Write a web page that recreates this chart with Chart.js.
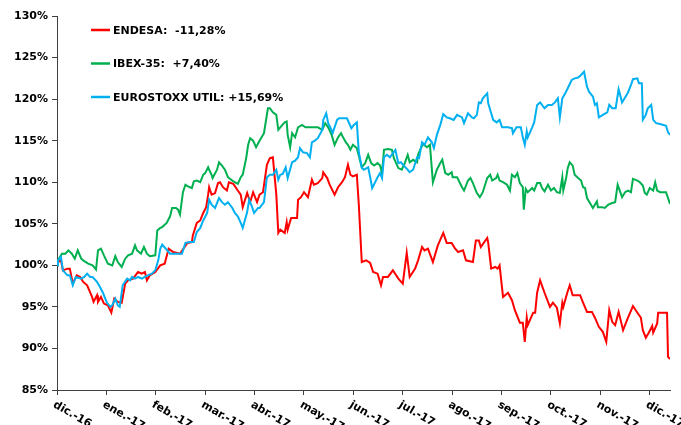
<!DOCTYPE html>
<html>
<head>
<meta charset="utf-8">
<script src="https://cdn.jsdelivr.net/npm/chart.js@4.4.1/dist/chart.umd.min.js"></script>
<style>body{margin:0;background:#fff}</style>
</head>
<body>
<canvas id="myChart" width="681" height="425"></canvas>
<script>
// meses del eje x (0 = dic.-16 ... 12 = dic.-17), los datos llegan a mediados de dic.-17
var monthLabels = ['dic.-16', 'ene.-17', 'feb.-17', 'mar.-17', 'abr.-17', 'may.-17', 'jun.-17',
  'jul.-17', 'ago.-17', 'sep.-17', 'oct.-17', 'nov.-17', 'dic.-17'];
var lastMonth = 12.41;

var seriesLabels = ['ENDESA:  -11,28%', 'IBEX-35:  +7,40%', 'EUROSTOXX UTIL: +15,69%'];

// ENDESA, base 100
var endesaX = [0,0.02,0.08,0.12,0.21,0.26,0.32,0.40,0.47,0.53,
  0.61,0.71,0.74,0.81,0.83,0.89,0.95,1.03,1.10,1.16,
  1.23,1.31,1.38,1.44,1.54,1.64,1.72,1.78,1.82,1.88,
  1.99,2.09,2.18,2.26,2.35,2.49,2.64,2.73,2.75,2.83,
  2.90,2.96,3.02,3.06,3.08,3.13,3.20,3.26,3.30,3.36,
  3.44,3.48,3.57,3.66,3.72,3.76,3.85,3.91,3.97,4.05,
  4.10,4.17,4.25,4.31,4.37,4.44,4.48,4.52,4.61,4.65,
  4.67,4.74,4.86,4.88,4.94,5.00,5.08,5.16,5.20,5.28,
  5.37,5.39,5.47,5.52,5.62,5.69,5.77,5.83,5.89,5.94,
  5.99,6.07,6.11,6.17,6.26,6.34,6.40,6.49,6.56,6.60,
  6.70,6.80,6.91,7.00,7.08,7.14,7.25,7.31,7.39,7.44,
  7.51,7.61,7.71,7.82,7.89,7.99,8.05,8.12,8.22,8.28,
  8.42,8.48,8.54,8.58,8.71,8.73,8.79,8.87,8.92,8.96,
  9.03,9.13,9.21,9.27,9.37,9.43,9.47,9.51,9.53,9.64,
  9.68,9.72,9.78,9.87,9.98,10.04,10.12,10.18,10.23,10.25,
  10.33,10.38,10.44,10.59,10.65,10.73,10.83,10.89,10.97,11.05,
  11.12,11.18,11.24,11.30,11.37,11.46,11.56,11.66,11.75,11.82,
  11.86,11.92,11.98,12.05,12.07,12.15,12.17,12.35,12.37,12.41];
var endesaY = [100,100.4,100.6,99.4,99.6,99.6,97.8,98.8,98.6,98.0,
  97.6,96.2,95.6,96.4,95.6,96.2,95.4,95.2,94.3,96.0,
  95.6,95.5,97.8,98.2,98.4,99.2,99.0,99.2,98.2,98.8,
  99.2,100.0,100.2,102.0,101.6,101.4,102.7,102.8,103.6,105.1,
  105.4,106.3,107.0,108.5,109.4,108.5,108.7,109.9,110.0,109.4,
  109.0,110.0,109.8,109.0,108.5,107.0,108.7,107.6,108.8,107.6,
  108.5,108.8,112.1,112.9,113.0,108.5,103.9,104.3,103.9,105.2,
  104.3,105.7,105.7,107.9,108.2,108.8,108.2,110.3,109.7,109.9,
  110.5,111.2,110.5,109.7,108.5,109.4,110.0,110.6,112.1,110.9,
  110.7,110.9,107.3,100.4,100.6,100.3,99.2,99.0,97.6,98.6,
  98.6,99.4,98.4,97.8,101.5,98.6,99.6,100.6,102.2,101.8,
  102.0,100.4,102.4,103.9,102.7,102.7,102.1,101.6,101.8,100.6,
  100.4,103.0,103.0,102.2,103.3,102.7,99.6,99.8,99.6,100.0,
  96.2,96.7,95.8,94.6,93.1,93.1,90.8,93.7,92.8,94.3,
  94.3,96.7,98.2,96.7,95.0,95.5,94.9,93.0,95.5,95.0,
  96.7,97.6,96.4,96.4,95.5,94.4,94.4,93.7,92.6,92.0,
  90.8,94.6,93.2,92.8,94.4,92.2,93.7,95.1,94.3,93.7,
  92.2,91.3,91.9,92.7,91.9,93.0,94.3,94.3,89.0,88.72];

// IBEX-35, base 100
var ibexX = [0,0.02,0.10,0.17,0.23,0.30,0.36,0.42,0.49,0.53,
  0.63,0.72,0.79,0.83,0.89,0.95,1.03,1.12,1.18,1.23,
  1.31,1.38,1.44,1.52,1.58,1.62,1.70,1.76,1.82,1.88,
  1.99,2.03,2.09,2.13,2.22,2.29,2.33,2.41,2.45,2.49,
  2.55,2.60,2.65,2.73,2.77,2.83,2.90,2.96,3.00,3.06,
  3.08,3.13,3.15,3.24,3.28,3.34,3.40,3.46,3.55,3.60,
  3.66,3.72,3.76,3.83,3.87,3.91,3.97,4.03,4.10,4.19,
  4.27,4.31,4.37,4.44,4.48,4.52,4.61,4.65,4.67,4.72,
  4.76,4.82,4.88,4.96,5.03,5.12,5.22,5.28,5.37,5.43,
  5.49,5.56,5.62,5.69,5.75,5.79,5.85,5.89,5.94,5.99,
  6.07,6.17,6.24,6.30,6.36,6.42,6.49,6.54,6.58,6.62,
  6.70,6.78,6.82,6.91,6.98,7.04,7.10,7.14,7.21,7.29,
  7.31,7.35,7.41,7.49,7.55,7.61,7.69,7.76,7.80,7.86,
  7.92,7.99,8.01,8.10,8.20,8.24,8.32,8.37,8.42,8.50,
  8.56,8.62,8.71,8.77,8.81,8.89,8.92,8.96,9.03,9.11,
  9.17,9.21,9.27,9.32,9.37,9.43,9.45,9.49,9.53,9.62,
  9.66,9.72,9.78,9.82,9.87,9.94,10.00,10.06,10.12,10.18,
  10.23,10.25,10.31,10.34,10.38,10.44,10.48,10.55,10.61,10.65,
  10.69,10.73,10.78,10.85,10.93,10.95,11.03,11.09,11.16,11.24,
  11.30,11.35,11.44,11.50,11.56,11.62,11.66,11.75,11.80,11.86,
  11.90,11.94,12.00,12.07,12.11,12.15,12.21,12.33,12.41];
var ibexY = [100,100.6,101.4,101.4,101.8,101.4,100.8,101.8,100.8,100.6,
  100.2,100.0,99.5,101.8,102.0,101.2,100.2,100.0,101.1,100.4,
  99.8,100.8,101.2,101.4,102.4,101.8,101.4,102.2,101.4,101.1,
  101.2,104.2,104.5,104.6,105.1,105.9,106.9,106.9,106.7,106.1,
  108.8,109.7,109.5,109.3,110.1,110.2,110.0,110.9,111.1,111.8,
  111.5,110.9,110.5,111.5,112.4,112.0,111.5,110.6,110.2,110.0,
  109.8,110.6,110.9,112.9,114.5,115.3,115.0,114.2,115.0,115.9,
  118.9,118.9,118.4,118.1,116.3,116.6,117.2,117.3,115.7,114.2,
  115.9,115.4,116.6,116.9,116.6,116.6,116.6,116.6,116.3,117.1,
  116.6,115.7,114.5,115.4,115.9,115.4,114.8,114.5,113.9,114.5,
  114.1,111.8,112.3,113.3,112.3,112.0,112.3,112.0,111.1,113.9,
  114.0,113.9,112.9,111.7,111.5,112.3,113.3,112.4,112.7,112.4,
  113.3,113.9,114.6,114.2,114.5,110.0,111.5,112.3,112.7,111.1,
  110.9,111.2,110.6,110.6,109.4,109.0,110.2,110.5,109.9,108.7,
  108.2,108.8,110.5,110.9,110.2,110.5,110.9,110.2,110.0,109.7,
  109.0,110.9,110.6,111.1,109.9,109.4,106.7,109.2,108.8,109.3,
  109.0,109.9,109.9,109.3,108.9,109.7,109.0,109.3,108.8,108.7,
  110.6,109.0,110.6,111.7,112.4,112.0,110.9,110.5,110.2,109.4,
  109.3,108.1,107.6,106.9,107.7,107.0,107.0,106.9,107.3,107.5,
  107.6,109.7,108.2,108.8,109.0,108.8,110.4,110.2,110.0,109.6,
  108.7,108.5,109.3,109.0,110.0,109.0,108.8,108.8,107.4];

// EUROSTOXX UTILITIES, base 100
var stoxxX = [0,0.02,0.08,0.12,0.21,0.26,0.32,0.38,0.49,0.55,
  0.61,0.67,0.72,0.81,0.87,0.93,1.01,1.08,1.12,1.18,
  1.23,1.27,1.33,1.42,1.48,1.52,1.58,1.64,1.72,1.78,
  1.84,1.92,1.99,2.05,2.09,2.13,2.29,2.53,2.60,2.69,
  2.77,2.83,2.90,2.96,3.04,3.08,3.13,3.20,3.28,3.34,
  3.40,3.46,3.55,3.60,3.66,3.72,3.76,3.85,3.89,3.95,
  3.99,4.07,4.10,4.19,4.25,4.31,4.37,4.44,4.48,4.52,
  4.57,4.63,4.67,4.76,4.82,4.88,4.92,4.98,5.06,5.12,
  5.16,5.22,5.28,5.37,5.39,5.45,5.49,5.54,5.58,5.67,
  5.71,5.87,5.96,6.01,6.07,6.11,6.17,6.21,6.30,6.34,
  6.38,6.44,6.49,6.54,6.58,6.62,6.68,6.74,6.85,6.91,
  6.96,7.02,7.10,7.14,7.21,7.29,7.33,7.39,7.44,7.51,
  7.59,7.63,7.69,7.76,7.82,7.89,7.95,8.03,8.10,8.20,
  8.24,8.32,8.40,8.44,8.50,8.54,8.58,8.62,8.71,8.73,
  8.79,8.83,8.90,8.96,9.01,9.13,9.21,9.23,9.30,9.39,
  9.43,9.47,9.51,9.53,9.62,9.66,9.72,9.78,9.87,9.94,
  10.02,10.08,10.14,10.18,10.23,10.29,10.34,10.42,10.48,10.55,
  10.61,10.67,10.73,10.77,10.85,10.89,10.93,10.97,11.05,11.14,
  11.18,11.24,11.31,11.37,11.44,11.50,11.56,11.62,11.66,11.75,
  11.78,11.84,11.86,11.92,11.96,12.03,12.07,12.13,12.21,12.33,
  12.37,12.41];
var stoxxY = [100,100.6,101.0,99.4,98.8,98.8,97.6,98.6,98.4,98.6,
  99.0,98.6,98.6,98.0,97.4,96.7,95.5,95.0,95.2,96.0,
  95.2,95.0,97.6,98.4,98.2,98.6,98.4,98.6,98.4,98.6,
  98.8,99.0,99.4,100.6,102.0,102.5,101.4,101.4,102.7,102.8,
  102.8,104.0,104.5,105.4,106.3,107.9,107.3,106.9,108.1,107.6,
  107.3,107.6,106.9,106.3,105.9,105.1,104.5,106.4,107.9,107.0,
  106.3,106.9,106.9,107.6,110.6,110.9,110.9,111.5,110.3,110.9,
  111.0,111.8,110.5,112.4,112.6,113.0,114.1,113.6,113.5,113.0,
  114.8,115.0,115.3,116.3,117.5,118.3,117.1,116.5,115.9,117.5,
  117.7,117.7,116.5,116.9,117.2,113.6,111.8,111.5,111.8,110.6,
  109.3,110.0,110.6,111.1,110.5,113.0,113.3,113.0,113.9,112.3,
  112.4,112.0,111.5,111.2,111.5,113.0,112.9,114.8,114.5,115.4,
  114.8,114.1,115.7,116.9,118.2,117.8,117.7,117.5,118.1,117.8,
  117.1,118.3,117.8,117.7,118.1,119.6,119.5,120.1,120.7,119.5,
  118.3,117.5,117.2,117.5,116.6,116.6,116.5,115.9,116.6,116.6,
  115.4,114.5,116.1,115.4,116.6,117.2,119.3,119.6,118.9,119.3,
  119.3,119.6,120.1,117.8,120.1,120.7,121.3,122.3,122.5,122.6,
  122.9,123.3,121.5,120.9,120.3,119.3,119.5,117.8,118.1,118.4,
  119.3,118.9,118.9,121.2,119.6,120.2,120.8,121.7,122.4,122.5,
  121.9,121.9,117.5,118.1,118.9,119.3,117.5,117.1,117.0,116.8,
  116.0,115.69];

function toPoints(xs, ys) {
  return xs.map(function(x, i) { return { x: x, y: ys[i] }; });
}

var boldFont = { family: 'DejaVu Sans', size: 11, weight: 'bold' };

// etiquetas del eje x inclinadas hacia abajo y leyenda dentro del grafico
var extras = {
  id: 'extras',
  afterDraw: function(chart) {
    var ctx = chart.ctx, xs = chart.scales.x, area = chart.chartArea;
    ctx.save();
    ctx.font = 'bold 11px "DejaVu Sans"';
    ctx.fillStyle = '#000';
    ctx.textAlign = 'left';
    ctx.textBaseline = 'middle';
    monthLabels.forEach(function(lab, i) {
      ctx.save();
      ctx.translate(xs.getPixelForValue(i) - 3, area.bottom + 14);
      ctx.rotate(30 * Math.PI / 180);
      ctx.fillText(lab, 0, 0);
      ctx.restore();
    });
    chart.data.datasets.forEach(function(ds, i) {
      var y = area.top + 14 + i * 33.5;
      ctx.strokeStyle = ds.borderColor;
      ctx.lineWidth = 2.5;
      ctx.beginPath();
      ctx.moveTo(area.left + 34, y);
      ctx.lineTo(area.left + 53, y);
      ctx.stroke();
      ctx.fillText(ds.label, area.left + 56, y + 1);
    });
    ctx.restore();
  }
};

var ctx = document.getElementById('myChart').getContext('2d');

var myChart = new Chart(ctx, {
  type: 'line',
  data: {
    datasets: [
      {
        label: seriesLabels[0],
        data: toPoints(endesaX, endesaY),
        borderColor: '#FF0000',
        borderWidth: 2,
        pointRadius: 0,
        order: 2
      },
      {
        label: seriesLabels[1],
        data: toPoints(ibexX, ibexY),
        borderColor: '#00B050',
        borderWidth: 2,
        pointRadius: 0,
        order: 1
      },
      {
        label: seriesLabels[2],
        data: toPoints(stoxxX, stoxxY),
        borderColor: '#00B0F0',
        borderWidth: 2,
        pointRadius: 0,
        order: 0
      }
    ]
  },
  options: {
    responsive: false,
    animation: false,
    layout: { padding: { top: 16, right: 11, bottom: 0, left: 0 } },
    plugins: {
      legend: { display: false },
      tooltip: { enabled: false }
    },
    scales: {
      x: {
        type: 'linear',
        min: 0,
        max: lastMonth,
        afterFit: function(s) { s.height = 35; },
        ticks: { stepSize: 1, display: false, includeBounds: false },
        grid: { drawOnChartArea: false, tickLength: 5, color: '#404040' },
        border: { color: '#404040', width: 1 }
      },
      y: {
        min: 85,
        max: 130,
        afterFit: function(s) { s.width = 57; },
        ticks: {
          stepSize: 5,
          padding: 4,
          color: '#000',
          font: boldFont,
          callback: function(v) { return v + '%'; }
        },
        grid: { drawOnChartArea: false, tickLength: 5, color: '#404040' },
        border: { color: '#404040', width: 1 }
      }
    }
  },
  plugins: [extras]
});
</script>
</body>
</html>
